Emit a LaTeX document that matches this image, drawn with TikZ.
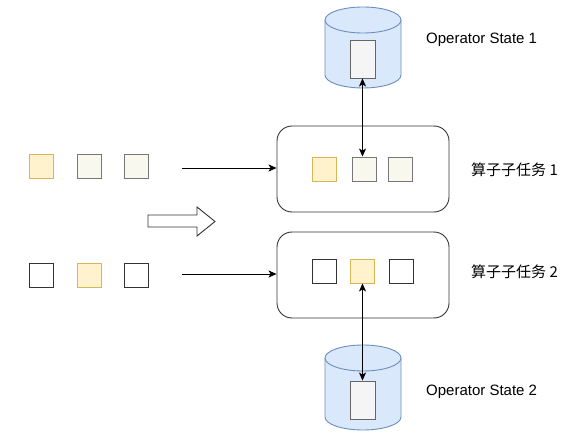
\documentclass[tikz,border=0pt]{standalone}
\usepackage{fontspec}
\setmainfont{Liberation Sans}
\newfontfamily\cjk{Noto Sans CJK SC}
\usetikzlibrary{arrows.meta}
\definecolor{yfill}{HTML}{FFF2CC}
\definecolor{ydraw}{HTML}{D6B656}
\definecolor{lfill}{HTML}{F9F8EF}
\definecolor{ldraw}{HTML}{777777}
\definecolor{cfill}{HTML}{DAE8FC}
\definecolor{cdraw}{HTML}{6C8EBF}
\definecolor{rfill}{HTML}{F5F5F5}
\definecolor{rdraw}{HTML}{666666}
\definecolor{kdraw}{HTML}{333333}
\tikzset{
  sq/.style={minimum width=24pt, minimum height=24pt, inner sep=0pt, line width=0.9pt},
  ysq/.style={sq, draw=ydraw, fill=yfill},
  lsq/.style={sq, draw=ldraw, fill=lfill},
  wsq/.style={sq, draw=kdraw, fill=white},
  taskbox/.style={draw=kdraw, line width=0.9pt, rounded corners=15pt, minimum width=172pt, minimum height=86pt, inner sep=0pt},
  inrect/.style={draw=rdraw, fill=rfill, line width=0.9pt, minimum width=25pt, minimum height=38pt, inner sep=0pt},
  cyl/.style={draw=cdraw, fill=cfill, line width=0.9pt},
  tipk/.tip={Stealth[length=8pt,width=7pt,inset=2pt]},
  conn/.style={line width=0.9pt, draw=black, -tipk},
  lbl/.style={font=\fontsize{15pt}{18pt}\selectfont, anchor=west, inner sep=0pt},
}
\begin{document}
\begin{tikzpicture}[x=1pt,y=-1pt]
\useasboundingbox (0,0) rectangle (587,433);
% cylinder 1
\draw[cyl] (325,20) -- (325,75) arc[start angle=180,end angle=360,x radius=38pt,y radius=13pt] -- (401,20);
\draw[cyl] (363,20) ellipse [x radius=38pt, y radius=13pt];
\node[inrect] (st1) at (362.5,59) {};
\node[lbl] (st1l) at (426,40) {Operator State 1};
% cylinder 2
\draw[cyl] (325,358) -- (325,417) arc[start angle=180,end angle=360,x radius=38pt,y radius=13pt] -- (401,358);
\draw[cyl] (363,358) ellipse [x radius=38pt, y radius=13pt];
\node[inrect] (st2) at (362.5,400) {};
\node[lbl] (st2l) at (426,392) {Operator State 2};
% task boxes
\node[taskbox] (box1) at (363,169) {};
\node[taskbox] (box2) at (363,275) {};
\node[ysq] (b1a) at (324.5,169) {};
\node[lsq] (b1b) at (364,169) {};
\node[lsq] (b1c) at (400.5,169) {};
\node[wsq] (b2a) at (324.5,271) {};
\node[ysq] (b2b) at (362.5,271) {};
\node[wsq] (b2c) at (401,271) {};
\node[lbl] (t1) at (471,170) {\cjk 算子子任务 1};
\node[lbl] (t2) at (471,272) {\cjk 算子子任务 2};
% left squares
\node[ysq] (l1a) at (41.5,166.5) {};
\node[lsq] (l1b) at (89,166.5) {};
\node[lsq] (l1c) at (136.5,166.5) {};
\node[wsq] (l2a) at (41.5,275) {};
\node[ysq] (l2b) at (89,275) {};
\node[wsq] (l2c) at (136.5,275) {};
% horizontal connectors
\coordinate (s1) at (182,168);
\coordinate (s2) at (182,274);
\draw[conn] (s1) -- (s1 -| box1.west);
\draw[conn] (s2) -- (s2 -| box2.west);
% vertical connectors
\draw[conn, tipk-tipk] (st1.south) -- (st1.south |- b1b.north);
\draw[conn, tipk-tipk] (st2.north) -- (st2.north |- b2b.south);
% block arrow
\draw[line width=0.9pt, draw=kdraw, fill=white] (148,215) -- (197,215) -- (197,207) -- (215,221.5) -- (197,236) -- (197,227) -- (148,227) -- cycle;
\end{tikzpicture}
\end{document}
